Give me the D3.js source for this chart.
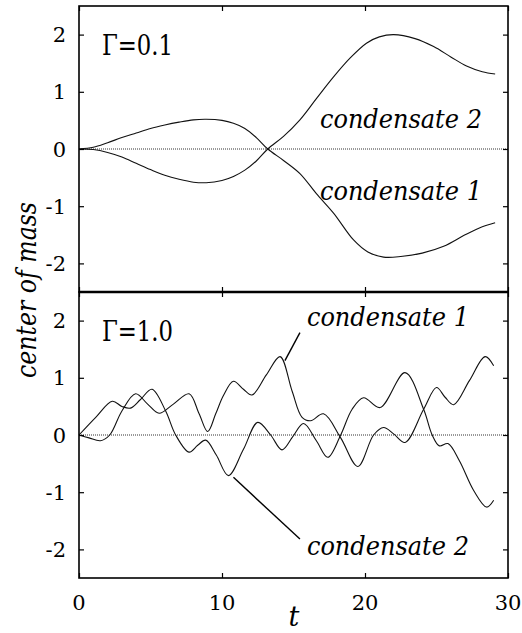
<!DOCTYPE html>
<html>
<head>
<meta charset="utf-8">
<script src="https://cdn.jsdelivr.net/npm/d3@7"></script>
<style>
  body { margin: 0; background: #fff; }
</style>
</head>
<body>
<svg id="chart" width="522" height="633"></svg>
<script>
// ---- data: [t, center of mass] ----
const xTicks = [0, 10, 20, 30];
const yTicks = [2, 1, 0, -1, -2];

// Gamma = 0.1 panel
const weak1 = [[0,0],[1,0.03],[2,0.11],[3,0.2],[4,0.28],[5,0.36],[6,0.42],[7,0.47],[8,0.51],[8.9,0.52],[10,0.5],
  [10.8,0.45],[11.6,0.36],[12.4,0.2],[13.2,0],[14.3,-0.2],[15.45,-0.43],[16.6,-0.78],[17.8,-1.12],[19.2,-1.59],
  [20.2,-1.8],[21.3,-1.89],[22.5,-1.88],[24,-1.82],[25.5,-1.7],[27,-1.5],[28,-1.38],[29.1,-1.29]];
const weak2 = [[0,0],[1,-0.01],[2,-0.06],[3,-0.14],[4,-0.25],[5,-0.36],[6,-0.46],[7,-0.53],[8,-0.58],[8.9,-0.59],[10,-0.55],
  [10.8,-0.48],[11.6,-0.37],[12.4,-0.21],[13.2,0],[14.3,0.22],[15.45,0.51],[16.6,0.88],[17.8,1.26],[19,1.6],[20.1,1.85],
  [21,1.96],[22,2.0],[23.5,1.93],[24.8,1.79],[26,1.61],[27.1,1.45],[28.2,1.35],[29.1,1.31]];

// Gamma = 1.0 panel
const strong1 = [[0,0],[0.7,-0.05],[1.5,-0.1],[2.15,0],[3.0,0.42],[3.96,0.72],[4.8,0.54],[5.6,0.38],[6.6,0.54],[7.7,0.72],
  [8.4,0.37],[9.0,0.06],[9.56,0.37],[10.1,0.69],[10.8,0.94],[11.5,0.8],[12.1,0.7],[13.1,1.05],[14.06,1.37],[14.9,0.77],
  [15.6,0.31],[16.2,0.25],[17.1,0.37],[18.3,-0.05],[19.5,-0.55],[20.6,0],[21.3,0.13],[22.0,0.02],[22.8,-0.13],[24.1,0.45],
  [25.0,0.83],[25.6,0.66],[26.2,0.53],[27.3,0.95],[28.4,1.37],[29.0,1.21]];
const strong2 = [[0,0],[1.17,0.31],[2.33,0.59],[3.0,0.5],[3.6,0.47],[4.3,0.62],[5.1,0.8],[6.06,0.42],[6.76,0],[7.7,-0.3],
  [8.3,-0.18],[8.86,-0.09],[9.6,-0.35],[10.45,-0.71],[11.5,-0.25],[12.5,0.22],[13.4,0],[14.2,-0.26],[14.95,-0.03],[15.7,0.2],
  [16.6,-0.1],[17.4,-0.39],[18.3,0],[19.1,0.45],[19.9,0.65],[21.05,0.48],[22.8,1.09],[24.1,0.45],[24.7,0],[25.2,-0.19],
  [25.8,-0.15],[26.6,-0.45],[27.6,-0.97],[28.5,-1.26],[29.0,-1.14]];

// panels: gamma text, series and their labels (label anchors in data units)
const panels = [
  { gamma: 'Γ=0.1', series: [weak1, weak2],
    labels: [{ text: 'condensate 2', t: 16.85, v: 0.37 }, { text: 'condensate 1', t: 16.85, v: -0.89 }],
    pointers: [] },
  { gamma: 'Γ=1.0', series: [strong1, strong2],
    labels: [{ text: 'condensate 1', t: 15.94, v: 1.91 }, { text: 'condensate 2', t: 15.94, v: -2.1 }],
    pointers: [[[14.4, 1.30], [15.45, 1.79]], [[10.8, -0.74], [15.45, -1.82]]] }
];

// only DejaVu Serif is there as a serif face; textLength squeezes it to the Times widths of the original
const serif = 'DejaVu Serif';
const svg = d3.select('#chart').attr('font-family', serif);
const plotLeft = 79, plotRight = 508, plotTop = 6, panelH = 286;

const x = d3.scaleLinear().domain([0, 30]).range([plotLeft, plotRight]);

panels.forEach((p, i) => {
  const y0 = plotTop + i * panelH;
  const y = d3.scaleLinear().domain([-2.5, 2.5]).range([y0 + panelH, y0]);
  const g = svg.append('g');

  // dotted zero line
  g.append('line')
    .attr('x1', x(0)).attr('x2', x(30))
    .attr('y1', y(0)).attr('y2', y(0))
    .attr('stroke', '#333').attr('stroke-width', 1)
    .attr('stroke-dasharray', '1,1');

  // the two condensate curves
  const line = d3.line()
    .x(d => x(d[0]))
    .y(d => y(d[1]))
    .curve(d3.curveCatmullRom.alpha(0.5));
  g.selectAll('path.curve')
    .data(p.series)
    .join('path')
    .attr('class', 'curve')
    .attr('fill', 'none')
    .attr('stroke', '#111')
    .attr('stroke-width', 1.1)
    .attr('d', line);

  // inward ticks on all four sides
  g.append('g').attr('transform', `translate(${plotLeft},0)`)
    .call(d3.axisRight(y).tickValues(yTicks).tickSize(5).tickFormat(''))
    .call(a => a.select('.domain').remove());
  g.append('g').attr('transform', `translate(${plotRight},0)`)
    .call(d3.axisLeft(y).tickValues(yTicks).tickSize(5).tickFormat(''))
    .call(a => a.select('.domain').remove());
  g.append('g').attr('transform', `translate(0,${y0})`)
    .call(d3.axisBottom(x).tickValues(xTicks).tickSize(5).tickFormat(''))
    .call(a => a.select('.domain').remove());
  g.append('g').attr('transform', `translate(0,${y0 + panelH})`)
    .call(d3.axisTop(x).tickValues(xTicks).tickSize(5).tickFormat(''))
    .call(a => a.select('.domain').remove());
  g.selectAll('.tick line').attr('stroke', '#000').attr('stroke-width', 1.2);

  // y tick labels
  g.selectAll('text.ytick')
    .data(yTicks)
    .join('text')
    .attr('class', 'ytick')
    .attr('x', plotLeft - 13)
    .attr('y', d => y(d))
    .attr('dy', '0.36em')
    .attr('text-anchor', 'end')
    .attr('font-family', serif)
    .attr('font-size', 21)
    .text(d => d);

  // frame
  g.append('rect')
    .attr('x', plotLeft).attr('y', y0)
    .attr('width', plotRight - plotLeft).attr('height', panelH)
    .attr('fill', 'none').attr('stroke', '#000').attr('stroke-width', 1.6);

  // gamma label
  g.append('text')
    .attr('x', x(1.6)).attr('y', y(1.65))
    .attr('font-family', serif)
    .attr('font-size', 28)
    .attr('textLength', 71)
    .attr('lengthAdjust', 'spacingAndGlyphs')
    .text(p.gamma);

  // curve labels
  g.selectAll('text.clabel')
    .data(p.labels)
    .join('text')
    .attr('class', 'clabel')
    .attr('x', d => x(d.t)).attr('y', d => y(d.v))
    .attr('font-family', serif)
    .attr('font-size', 26)
    .attr('font-style', 'italic')
    .attr('textLength', 162)
    .attr('lengthAdjust', 'spacingAndGlyphs')
    .text(d => d.text);

  // pointer lines to the curves
  g.selectAll('line.pointer')
    .data(p.pointers)
    .join('line')
    .attr('class', 'pointer')
    .attr('x1', d => x(d[0][0])).attr('y1', d => y(d[0][1]))
    .attr('x2', d => x(d[1][0])).attr('y2', d => y(d[1][1]))
    .attr('stroke', '#000').attr('stroke-width', 1.4);
});

// thicker divider between the panels
svg.append('line')
  .attr('x1', plotLeft).attr('x2', plotRight)
  .attr('y1', plotTop + panelH).attr('y2', plotTop + panelH)
  .attr('stroke', '#000').attr('stroke-width', 2.6);

// x tick labels and axis titles
svg.selectAll('text.xtick')
  .data(xTicks)
  .join('text')
  .attr('class', 'xtick')
  .attr('x', d => x(d))
  .attr('y', 610)
  .attr('text-anchor', 'middle')
  .attr('font-family', serif)
  .attr('font-size', 21)
  .text(d => d);

svg.append('text')
  .attr('x', 294).attr('y', 626)
  .attr('text-anchor', 'middle')
  .attr('font-family', serif)
  .attr('font-size', 27)
  .attr('font-style', 'italic')
  .text('t');

svg.append('text')
  .attr('transform', 'translate(36,290) rotate(-90)')
  .attr('text-anchor', 'middle')
  .attr('font-family', serif)
  .attr('font-size', 27)
  .attr('font-style', 'italic')
  .attr('textLength', 176)
  .attr('lengthAdjust', 'spacingAndGlyphs')
  .text('center of mass');
</script>
</body>
</html>
